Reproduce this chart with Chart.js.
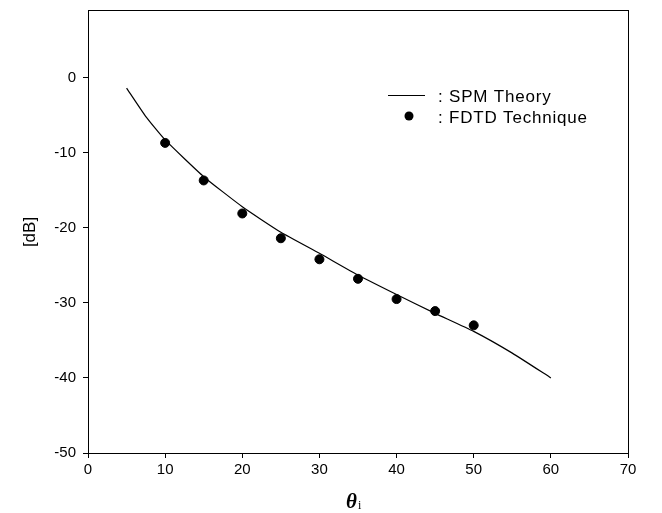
<!DOCTYPE html>
<html>
<head>
<meta charset="utf-8">
<script src="https://cdn.jsdelivr.net/npm/chart.js@4.4.0/dist/chart.umd.min.js"></script>
<style>
  html, body { margin: 0; padding: 0; background: #fff; }
</style>
</head>
<body>
<canvas id="dbChart" width="662" height="513"></canvas>
<script>
// SPM theory curve
const spmAngles = [5, 7.5, 10, 15, 20, 25, 30, 35, 40, 45, 50, 55, 60];
const spmValues = [-1.4, -5.2, -8.3, -13.2, -17.2, -20.6, -23.4, -26.3, -28.9, -31.4, -33.8, -36.7, -40.0];

// FDTD points
const fdtdAngles = [10, 15, 20, 25, 30, 35, 40, 45, 50];
const fdtdValues = [-8.7, -13.7, -18.1, -21.4, -24.2, -26.8, -29.5, -31.1, -33.0];

const xTicks = [0, 10, 20, 30, 40, 50, 60, 70];
const yTicks = [-50, -40, -30, -20, -10, 0];

const legendNames = [": SPM Theory", ": FDTD Technique"];

const tickFont = { family: "'Liberation Sans', Arial, sans-serif", size: 15 };

// frame, axis titles and the legend box inside the plot
const decorPlugin = {
  id: "decor",
  afterDraw(chart) {
    const ctx = chart.ctx;
    const a = chart.chartArea;
    ctx.save();
    ctx.strokeStyle = "#000";
    ctx.lineWidth = 1;
    ctx.strokeRect(a.left + 0.5, a.top + 0.5, a.right - a.left, a.bottom - a.top);

    // y title
    ctx.fillStyle = "#000";
    ctx.font = "17px 'Liberation Sans', Arial, sans-serif";
    ctx.textAlign = "center";
    ctx.textBaseline = "middle";
    ctx.translate(30, 232);
    ctx.rotate(-Math.PI / 2);
    ctx.fillText("[dB]", 0, 0);
    ctx.setTransform(1, 0, 0, 1, 0, 0);

    // x title: theta with subscript i
    ctx.textAlign = "left";
    ctx.textBaseline = "alphabetic";
    ctx.font = "italic bold 21px 'Liberation Serif', 'DejaVu Serif', serif";
    ctx.fillText("\u03B8", 346, 508);
    const w = ctx.measureText("\u03B8").width;
    ctx.font = "12px 'Liberation Serif', 'DejaVu Serif', serif";
    ctx.fillText("i", 346 + w + 1, 509);

    // legend
    ctx.font = "17px 'Liberation Sans', Arial, sans-serif";
    ctx.letterSpacing = "0.8px";
    ctx.beginPath();
    ctx.moveTo(388, 95.5);
    ctx.lineTo(425, 95.5);
    ctx.stroke();
    ctx.fillText(legendNames[0], 438, 102);
    ctx.beginPath();
    ctx.arc(409, 116, 4.5, 0, Math.PI * 2);
    ctx.fill();
    ctx.fillText(legendNames[1], 438, 123);
    ctx.letterSpacing = "0px"; // don't let it leak into tick labels on redraw
    ctx.restore();
  }
};

const dbChart = new Chart(document.getElementById("dbChart").getContext("2d"), {
  type: "scatter",
  data: {
    datasets: [
      {
        label: "SPM Theory",
        type: "line",
        data: spmAngles.map((x, i) => ({ x: x, y: spmValues[i] })),
        borderColor: "#000",
        borderWidth: 1.2,
        pointRadius: 0,
        tension: 0.15,
        fill: false
      },
      {
        label: "FDTD Technique",
        data: fdtdAngles.map((x, i) => ({ x: x, y: fdtdValues[i] })),
        backgroundColor: "#000",
        borderColor: "#000",
        pointRadius: 4.5,
        pointHoverRadius: 4.5
      }
    ]
  },
  options: {
    responsive: false,
    animation: false,
    layout: { padding: { top: 10, right: 34, left: 0, bottom: 0 } },
    plugins: {
      legend: { display: false },
      tooltip: { enabled: false }
    },
    scales: {
      x: {
        type: "linear",
        min: 0,
        max: 70,
        afterBuildTicks: (s) => { s.ticks = xTicks.map((v) => ({ value: v })); },
        afterFit: (s) => { s.height = 60; },
        border: { color: "#000", width: 1 },
        grid: { drawOnChartArea: false, drawTicks: true, tickLength: 5, color: "#000" },
        ticks: { color: "#000", font: tickFont, padding: 3, maxRotation: 0 }
      },
      y: {
        type: "linear",
        min: -50,
        max: 9,
        afterBuildTicks: (s) => { s.ticks = yTicks.map((v) => ({ value: v })); },
        afterFit: (s) => { s.width = 88; s.paddingTop = 0; s.paddingBottom = 0; },
        border: { color: "#000", width: 1 },
        grid: { drawOnChartArea: false, drawTicks: true, tickLength: 5, color: "#000" },
        ticks: { color: "#000", font: tickFont, padding: 7 }
      }
    }
  },
  plugins: [decorPlugin]
});
</script>
</body>
</html>
